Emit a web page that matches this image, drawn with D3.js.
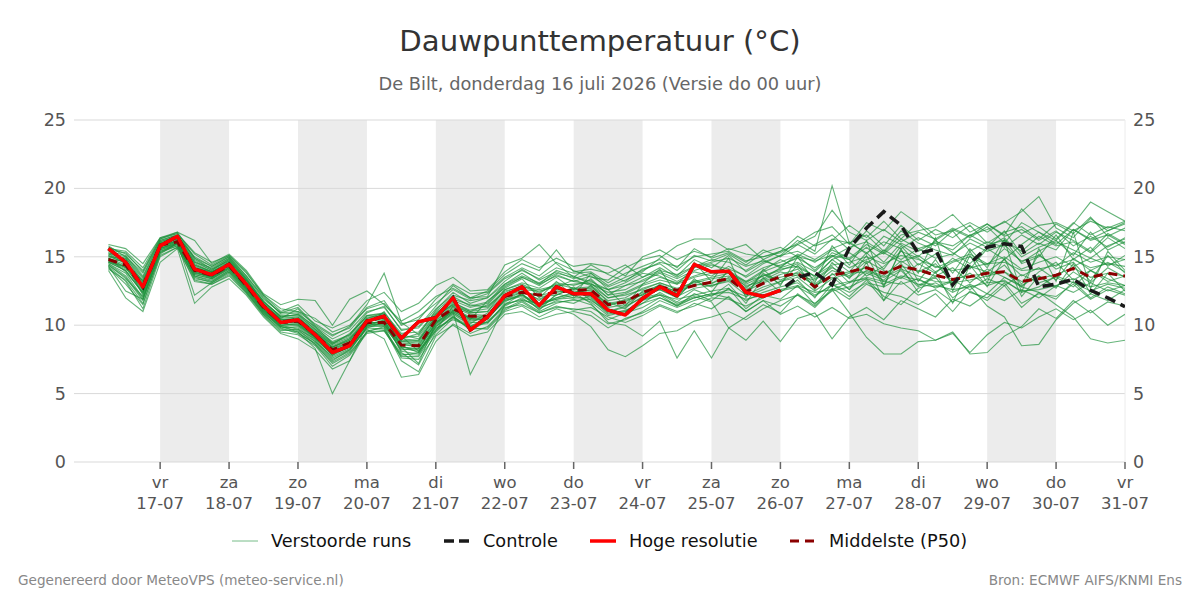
<!DOCTYPE html>
<html>
<head>
<meta charset="utf-8">
<script src="https://cdn.jsdelivr.net/npm/d3@7"></script>
<style>
  html, body { margin: 0; padding: 0; background: #fff; }
  svg { display: block; font-family: "DejaVu Sans", sans-serif; }
</style>
</head>
<body>
<svg id="chart" width="1200" height="600"></svg>
<script>
// ---------------- DATA ----------------
const runStart = "2026-07-16T06:00:00";   // first forecast step
const stepHours = 6;
const dayNames = ["vr","za","zo","ma","di","wo","do","vr","za","zo","ma","di","wo","do","vr"];
const dayDates = ["17-07","18-07","19-07","20-07","21-07","22-07","23-07","24-07","25-07","26-07","27-07","28-07","29-07","30-07","31-07"];
const yTicks = [0, 5, 10, 15, 20, 25];

const hogeResolutie = [15.6,14.6,12.8,15.8,16.5,14.1,13.7,14.45,13.0,11.4,10.2,10.4,9.3,8.0,8.5,10.3,10.65,9.05,10.25,10.55,12.0,9.65,10.6,12.15,12.8,11.45,12.8,12.3,12.3,11.1,10.75,11.95,12.8,12.15,14.45,13.9,13.95,12.4,12.1,12.55];

const controle = [15.6,14.6,12.8,15.8,16.5,14.1,13.7,14.45,13.0,11.4,10.2,10.4,9.3,8.0,8.5,10.3,10.65,9.05,10.25,10.55,12.0,9.65,10.6,12.15,12.8,11.45,12.8,12.3,12.3,11.1,10.75,11.95,12.8,12.15,14.45,13.9,13.95,12.4,12.1,12.55,13.5,13.85,12.95,15.65,17.1,18.3,17.3,15.25,15.55,12.95,14.5,15.7,15.95,15.75,12.8,13.0,13.35,12.55,12.0,11.35];

const middelste = [14.8,14.4,12.8,15.85,16.1,14.0,13.65,14.35,12.9,11.3,10.2,10.3,9.3,8.2,8.7,10.2,10.2,8.55,8.5,10.4,11.2,10.65,10.65,12.1,12.4,12.2,12.4,12.55,12.6,11.5,11.7,12.4,12.8,12.55,12.9,13.15,13.4,12.45,13.05,13.55,13.8,12.8,13.65,13.9,14.2,13.8,14.3,14.05,13.65,13.35,13.55,13.8,13.9,13.2,13.4,13.65,14.15,13.5,13.8,13.6];

const m01 = [15.0,14.6,13.0,16.0,16.3,14.3,13.8,14.6,13.1,11.5,10.5,10.6,9.6,8.5,9.0,10.4,10.5,8.9,8.8,10.7,11.5,11.0,11.2,12.5,12.8,12.6,12.9,13.0,13.1,12.0,12.3,12.9,13.3,13.0,13.5,13.8,14.0,13.2,13.6,14.1,14.3,13.6,14.4,14.6,15.0,14.5,15.1,14.8,14.3,14.0,14.2,14.5,14.6,14.0,14.1,14.4,14.8,14.2,14.5,14.3];
const m02 = [14.5,13.8,12.0,15.5,15.9,13.6,13.3,14.0,12.6,11.0,9.8,9.9,8.9,7.6,8.2,9.8,9.7,7.9,7.8,9.9,10.8,10.0,10.1,11.6,11.8,11.6,11.9,12.0,12.0,10.9,11.0,11.8,12.2,11.9,12.2,12.5,12.7,11.8,12.4,12.8,13.1,12.2,12.9,13.2,13.4,13.0,13.6,13.3,12.9,12.6,12.8,13.1,13.2,12.5,12.6,12.9,13.4,12.8,13.1,12.9];
const m03 = [14.2,13.0,11.5,15.2,16.0,13.9,13.4,14.2,12.7,11.1,9.9,9.5,8.3,5.0,7.4,10.0,11.0,9.2,8.1,9.6,11.4,10.4,11.8,12.7,13.4,12.0,13.2,12.1,13.8,12.6,11.4,13.0,14.1,12.2,14.6,13.2,14.9,12.0,14.1,12.9,15.0,13.1,15.8,14.4,16.2,12.9,15.5,13.8,16.4,12.5,15.1,13.1,16.2,12.4,15.6,13.2,16.8,12.7,15.4,14.0];
const m04 = [15.4,15.1,13.6,16.2,16.6,14.8,14.1,14.9,13.5,11.9,10.9,11.3,10.0,9.2,9.9,11.5,13.8,10.2,9.3,11.1,12.4,11.6,12.0,13.2,14.1,13.3,13.9,13.4,13.8,12.9,13.5,14.0,14.6,14.3,15.0,15.2,15.4,14.7,15.0,15.4,15.9,15.2,16.3,16.0,16.6,15.4,16.9,16.0,15.5,15.1,16.3,15.7,16.9,15.2,16.0,15.5,17.0,16.2,16.6,15.9];
const m05 = [14.9,14.2,12.5,15.7,16.2,14.0,13.5,14.3,12.8,11.2,10.1,10.0,9.0,7.9,8.4,9.7,9.0,6.2,6.4,8.8,10.1,9.4,9.9,11.2,11.8,11.0,11.6,11.9,11.5,10.4,10.9,11.3,12.0,11.4,12.3,11.8,12.7,11.2,12.2,11.9,12.9,11.5,13.0,12.1,13.3,11.8,13.2,12.2,12.6,11.7,12.4,12.0,13.1,11.6,12.3,12.1,13.0,11.9,12.6,12.2];
const m06 = [15.2,14.9,13.2,15.9,16.4,14.5,13.9,14.5,13.2,11.6,10.4,10.5,9.4,8.1,8.6,10.5,10.9,8.4,7.2,10.2,11.0,6.4,8.8,11.5,12.3,11.3,12.2,12.8,11.8,11.0,11.3,12.1,12.6,12.0,13.3,13.0,13.9,12.8,13.4,14.2,14.6,13.9,15.1,14.8,13.6,14.3,15.4,14.9,13.9,14.6,15.0,14.4,15.6,14.7,15.1,14.3,15.3,14.6,15.0,14.8];
const m07 = [14.6,14.3,12.9,16.1,16.5,15.0,14.3,15.0,13.6,12.1,10.8,10.9,9.8,8.8,9.3,10.9,11.4,9.6,9.9,11.4,12.9,12.0,12.1,14.4,14.9,15.9,14.5,13.5,14.4,13.7,13.2,14.1,14.5,13.6,14.8,14.2,15.1,13.9,14.6,15.1,15.4,14.8,15.6,16.1,15.2,16.5,15.9,15.0,16.2,15.3,14.5,15.7,16.4,15.0,15.7,16.2,15.1,16.8,15.5,16.1];
const m08 = [14.4,13.5,11.8,15.3,15.8,13.5,13.1,13.8,12.4,10.8,9.6,9.7,8.6,7.3,8.0,9.5,9.9,7.6,7.5,9.3,10.5,9.8,9.7,11.0,11.4,10.6,11.2,10.8,9.9,8.2,7.7,8.5,9.4,9.6,10.3,10.6,11.0,10.4,11.2,11.8,12.2,11.6,12.5,12.8,13.4,12.1,11.5,12.7,13.1,12.4,13.0,12.3,13.5,12.9,13.6,12.8,13.9,13.1,14.2,13.5];
const m09 = [15.1,14.5,12.2,15.6,16.1,13.8,13.6,14.4,12.9,11.3,10.3,10.2,9.2,8.3,8.8,10.1,10.3,8.7,8.6,10.3,11.3,10.8,10.7,11.8,12.2,11.4,12.0,12.4,11.6,10.2,10.0,9.2,10.3,7.6,9.6,7.6,9.8,10.6,11.5,10.9,12.3,11.4,12.7,11.9,13.0,12.4,12.1,11.5,12.3,11.0,12.5,11.8,12.9,11.3,12.4,11.9,13.2,12.0,12.8,12.3];
const m10 = [14.7,14.1,13.3,15.8,16.2,14.2,13.9,14.7,13.3,11.8,10.6,10.8,9.9,8.7,9.2,10.7,10.8,9.0,9.4,10.9,11.8,11.3,11.6,12.9,13.5,13.0,13.6,13.2,13.0,12.4,12.6,13.3,13.9,13.4,14.0,14.4,14.1,13.6,14.5,15.1,16.2,15.4,20.2,16.0,15.3,16.1,15.6,16.4,15.8,16.9,15.4,16.1,15.7,16.6,15.9,16.8,16.2,15.4,16.7,16.0];
const m11 = [15.5,15.3,13.9,16.3,16.7,15.2,14.4,15.1,13.8,12.2,11.2,11.0,10.5,9.5,10.0,11.2,11.6,10.1,10.4,11.9,13.0,12.3,12.4,13.5,14.2,13.6,14.6,14.0,13.5,13.3,14.2,14.8,15.1,14.2,15.6,14.9,15.3,14.6,15.5,15.0,15.9,16.5,18.4,16.8,16.2,17.0,16.1,16.8,16.3,17.1,16.5,17.4,16.6,18.5,17.2,16.3,17.5,16.6,17.2,16.9];
const m12 = [14.3,13.2,11.2,15.0,15.7,13.2,13.0,13.6,12.3,10.7,9.5,9.3,8.5,7.0,7.8,9.4,9.6,7.8,8.0,9.8,10.4,9.9,10.2,11.3,11.5,10.9,11.4,11.1,11.3,10.6,10.2,10.7,11.4,10.9,11.6,11.2,12.1,11.0,11.8,11.4,12.2,11.3,12.6,10.9,9.1,7.9,7.9,8.8,8.9,9.5,7.9,8.0,9.2,9.9,11.2,10.5,11.8,10.9,11.7,11.4];
const m13 = [14.8,14.7,13.1,15.9,16.3,14.1,13.7,14.3,12.8,11.3,10.2,10.4,9.3,8.4,8.9,10.3,10.4,8.8,8.7,10.5,11.4,10.9,11.0,12.3,12.6,12.5,12.8,13.3,12.9,12.0,12.2,12.6,13.1,12.7,13.1,13.4,13.6,12.9,13.2,13.7,14.1,13.0,14.0,13.5,14.3,13.2,14.0,12.8,13.5,12.0,12.9,11.4,10.6,8.5,8.6,10.4,11.6,12.3,11.8,12.6];
const m14 = [15.3,14.8,12.6,15.8,16.4,14.6,14.0,14.8,13.4,11.7,10.7,10.7,9.7,8.6,9.4,10.6,10.7,9.3,9.0,10.8,11.9,11.5,11.3,12.6,13.1,12.7,13.5,12.6,13.4,12.2,12.9,13.2,13.8,13.2,13.9,13.6,14.3,13.5,14.2,14.6,15.1,14.0,15.3,14.8,15.7,14.6,16.0,15.4,16.1,15.8,16.6,17.0,17.5,18.3,19.4,17.1,16.4,17.8,16.9,17.5];
const m15 = [14.6,14.0,12.4,15.6,16.0,13.7,13.4,14.1,12.7,11.1,10.0,10.1,9.1,8.0,8.5,10.0,10.0,8.2,8.3,10.1,11.0,10.4,10.5,11.9,12.4,11.9,12.5,12.4,12.6,11.4,11.9,12.2,12.9,12.3,13.0,12.9,13.3,12.6,13.3,13.9,13.6,13.3,14.2,13.6,14.7,14.0,13.4,14.5,13.8,14.9,14.1,15.6,14.8,15.9,16.8,16.2,17.4,19.0,18.3,17.6];
const m16 = [14.9,14.4,12.7,15.7,16.2,14.2,13.8,14.5,13.0,11.4,10.3,10.3,9.4,8.3,8.7,10.2,10.1,8.4,8.2,10.2,11.1,10.5,10.6,12.2,12.5,12.1,12.2,12.7,12.5,11.3,11.5,12.3,12.6,12.1,12.7,12.9,13.2,12.2,12.8,13.2,13.5,12.5,13.4,13.8,13.9,13.5,14.1,13.6,13.2,13.1,13.3,13.6,13.9,12.8,12.4,11.5,10.6,9.0,8.7,8.9];
const m17 = [15.0,14.9,13.4,16.0,16.5,14.6,14.2,14.9,13.4,11.7,10.6,10.6,9.5,8.6,9.1,10.5,10.7,9.0,8.9,10.6,11.6,11.1,11.4,12.4,12.9,12.3,13.1,12.9,13.3,12.2,12.4,13.0,13.5,13.1,13.6,14.0,13.9,13.1,13.9,14.4,14.9,14.2,15.0,15.7,16.1,15.3,16.6,16.9,17.2,18.1,16.8,17.4,16.5,17.0,16.2,16.9,15.8,16.5,15.7,16.4];
const m18 = [14.5,13.6,11.9,15.4,15.9,13.4,13.2,13.9,12.5,10.9,9.9,9.6,8.8,7.5,8.1,9.9,10.4,8.0,7.1,9.5,10.7,9.6,10.3,11.4,12.0,11.2,11.8,11.6,12.2,11.2,10.8,11.6,12.4,11.7,12.6,12.1,13.0,11.6,13.5,12.4,13.3,12.0,13.8,12.6,14.6,11.8,14.2,12.4,13.9,11.6,14.4,12.8,14.9,12.1,13.6,12.7,14.5,12.3,13.8,12.5];
const m19 = [15.9,15.6,14.5,16.4,16.8,16.2,14.5,15.2,14.0,12.3,11.5,11.9,11.8,10.0,11.9,12.5,11.5,10.3,11.0,12.1,12.7,12.0,12.5,13.7,14.5,14.0,15.5,13.9,14.1,13.8,14.4,13.5,14.2,13.5,14.3,14.8,14.6,14.0,14.8,14.2,15.2,14.6,15.5,14.9,15.9,15.2,16.3,15.6,16.0,15.5,16.6,15.9,16.2,15.4,16.5,15.8,16.1,15.3,16.4,15.6];
const m20 = [14.0,12.0,11.0,14.6,15.6,11.6,12.8,13.4,12.2,10.6,9.4,9.0,8.2,6.8,7.4,9.6,9.8,7.4,6.6,9.2,10.0,9.2,9.5,10.8,11.0,10.4,10.8,11.0,10.7,9.8,10.5,10.9,11.5,11.0,11.4,12.0,11.9,11.4,12.0,12.5,12.8,12.1,13.0,12.4,13.1,12.8,13.5,13.0,12.8,13.3,12.6,13.4,12.9,13.7,13.1,13.5,12.8,14.0,13.2,13.6];
const m21 = [15.7,15.2,14.0,16.3,16.8,14.9,14.1,14.7,13.3,11.6,10.5,11.2,9.9,9.0,9.6,11.0,11.3,9.7,9.8,11.2,12.2,11.8,12.0,13.0,13.8,13.0,14.0,13.6,13.0,12.6,13.1,13.8,13.6,13.0,14.2,14.5,13.8,13.2,14.0,14.8,14.2,13.6,14.8,15.3,14.5,15.5,14.8,15.6,14.9,15.2,16.0,15.4,15.9,14.6,15.4,16.1,15.5,14.9,15.8,16.3];
const m22 = [14.7,14.2,12.6,15.6,16.0,13.8,13.5,14.2,12.8,11.2,10.1,10.1,9.1,7.8,8.4,10.1,10.0,8.6,8.4,10.2,11.1,10.5,10.4,11.9,12.2,11.6,12.0,12.3,12.1,11.0,11.4,12.0,12.3,11.6,12.1,11.7,9.8,8.9,10.3,8.8,10.5,10.9,9.0,10.6,11.3,10.4,11.8,11.2,10.6,11.9,11.4,12.3,11.8,12.6,12.0,12.9,12.4,13.1,12.5,12.9];
const m23 = [15.2,14.6,13.0,16.0,16.4,14.4,13.9,14.6,13.1,11.5,10.4,10.4,9.5,8.4,9.0,10.4,10.6,9.1,9.2,10.8,11.7,11.0,11.5,12.8,13.5,12.9,13.7,13.2,13.6,12.8,13.3,13.9,14.9,15.8,16.3,16.3,15.5,15.9,14.8,15.4,16.5,15.8,16.2,17.3,16.4,17.6,16.3,17.5,16.6,16.9,17.5,16.8,17.6,16.7,17.3,17.5,16.9,17.6,17.1,17.6];
const m24 = [14.4,13.4,12.1,15.4,15.8,13.6,13.2,14.0,12.6,11.0,9.9,9.8,8.8,7.7,8.3,9.9,9.9,8.3,8.1,9.9,10.9,10.2,10.2,11.5,11.9,11.3,11.7,11.8,11.9,10.8,11.1,11.6,12.0,11.5,12.0,12.3,12.4,11.9,12.2,12.6,12.9,12.4,12.6,13.1,13.5,13.2,13.0,13.4,12.7,13.2,13.8,12.9,13.3,12.4,12.8,13.6,13.1,12.5,13.0,12.7];
const m25 = [15.1,14.7,13.2,15.9,16.3,14.4,13.9,14.5,13.1,11.5,10.4,10.5,9.5,8.4,8.9,10.4,10.5,8.8,8.9,10.6,11.5,10.9,11.0,12.6,13.0,12.4,13.0,12.7,12.8,11.8,12.0,12.7,13.1,12.6,13.2,13.5,13.8,13.0,13.6,14.0,14.5,13.5,14.8,13.9,15.3,14.1,15.8,14.4,15.2,13.8,15.6,14.2,16.3,14.5,15.0,16.6,14.8,15.7,14.3,15.1];
const m26 = [14.6,14.0,12.3,15.5,16.0,13.9,13.5,14.2,12.8,11.2,10.0,10.0,9.1,7.9,8.5,10.0,10.1,8.4,8.3,10.1,11.0,10.3,10.5,11.8,12.1,11.5,11.9,12.2,11.7,10.7,11.0,11.9,12.2,11.4,12.0,12.3,12.0,11.0,11.8,10.8,11.4,10.6,11.3,10.5,10.8,10.1,9.8,9.6,8.9,9.4,8.0,9.3,10.2,9.8,10.6,11.2,10.4,11.1,10.0,10.8];
const m27 = [15.3,15.0,13.5,16.1,16.5,14.7,14.0,14.8,13.3,11.7,10.6,10.8,9.7,8.7,9.3,10.7,10.9,9.4,9.5,11.0,12.1,11.4,11.7,13.0,13.6,13.1,13.8,13.5,13.2,12.6,12.9,13.5,14.0,13.7,14.3,14.6,14.9,14.3,14.7,14.3,15.0,14.7,15.1,14.2,14.8,15.3,14.6,15.1,14.2,14.7,15.2,14.5,15.0,14.1,14.6,15.0,14.3,14.9,14.4,14.8];
const m28 = [14.1,13.3,11.6,15.1,15.7,13.3,13.0,13.7,12.4,10.8,9.7,9.5,8.6,7.2,7.9,9.5,9.6,7.7,7.7,9.6,10.6,9.7,9.8,11.1,11.7,10.9,11.3,11.2,11.0,10.1,10.4,11.0,11.8,11.3,11.8,12.2,12.6,12.1,12.6,13.2,13.7,12.9,13.5,12.6,13.8,13.3,14.5,12.9,13.6,14.2,13.1,14.1,13.5,12.8,13.9,14.6,13.3,14.0,13.4,12.9];
const m29 = [14.8,14.3,12.9,15.8,16.1,14.0,13.7,14.4,12.9,11.3,10.2,10.2,9.2,8.2,8.7,10.2,10.2,8.6,8.5,10.4,11.2,10.6,10.7,12.1,12.4,12.2,12.4,12.6,12.7,11.5,11.7,12.4,12.8,12.5,12.9,13.1,13.4,12.5,13.1,13.5,13.8,12.9,13.7,13.9,14.2,13.8,14.3,14.0,13.6,13.4,13.6,13.8,13.9,13.2,13.4,13.7,14.2,13.5,13.8,13.6];
const m30 = [15.6,15.4,14.2,16.4,16.7,15.3,14.6,15.1,13.9,12.2,11.0,11.5,10.3,9.8,10.4,11.8,12.4,11.0,11.6,12.9,13.5,12.5,12.6,13.9,14.8,14.2,14.9,14.3,14.5,14.3,13.6,15.0,15.5,14.8,15.4,15.0,15.6,15.2,15.0,15.3,16.0,16.8,17.2,15.9,17.5,16.9,18.3,17.4,16.2,17.0,16.4,17.2,16.0,17.5,16.8,15.9,17.0,16.3,16.9,17.4];
const m31 = [14.3,12.5,11.9,15.3,16.0,12.2,13.1,13.9,12.5,10.9,9.8,9.4,8.7,7.4,8.2,9.8,10.2,8.1,7.9,9.7,10.6,9.9,10.6,11.7,12.3,11.1,12.3,12.0,12.9,11.7,11.2,12.5,12.9,12.0,13.4,12.4,14.1,12.3,13.8,13.0,14.4,12.6,14.6,13.4,15.1,12.8,15.6,13.2,14.8,12.9,15.4,13.5,14.4,13.0,15.2,14.1,14.6,13.2,15.1,13.8];
const m32 = [15.8,15.0,13.8,16.2,16.6,14.9,14.3,15.0,13.6,12.0,10.9,11.0,10.1,9.3,9.8,11.3,11.8,10.0,10.6,11.6,12.6,11.9,12.3,13.4,14.0,13.4,14.2,13.8,13.9,13.1,13.8,14.3,14.8,14.0,15.1,14.7,15.2,14.4,15.3,15.7,15.0,15.9,16.6,15.5,16.9,15.8,17.3,16.2,17.0,16.4,17.3,16.0,16.8,17.2,16.3,17.4,16.7,17.9,16.5,17.1];
const m33 = [14.9,13.9,12.4,15.6,16.1,13.7,13.4,14.1,12.7,11.1,10.0,9.7,9.0,7.8,8.6,10.1,10.3,8.5,8.0,10.0,10.9,10.1,10.9,12.0,12.7,11.8,12.6,12.5,12.4,11.6,11.8,12.2,13.0,12.4,13.2,12.8,13.5,12.7,13.7,13.3,13.9,13.4,14.3,13.1,14.0,13.6,14.7,13.9,14.5,13.1,14.3,13.9,14.8,13.6,14.2,13.3,14.9,14.0,14.6,13.9];

const verstoordeRuns = [m01,m02,m03,m04,m05,m06,m07,m08,m09,m10,m11,m12,m13,m14,m15,m16,m17,m18,m19,m20,m21,m22,m23,m24,m25,m26,m27,m28,m29,m30,m31,m32,m33];

// ---------------- CHART ----------------
const svg = d3.select("#chart");
const plot = { left: 74, right: 1125, top: 120, bottom: 462 };

const parse = d3.isoParse;
const t0 = parse(runStart);
const timeAt = i => d3.timeHour.offset(t0, i * stepHours);

const x = d3.scaleTime()
  .domain([parse("2026-07-15T18:00:00"), parse("2026-07-31T00:00:00")])
  .range([plot.left, plot.right]);
const y = d3.scaleLinear().domain([0, 25]).range([plot.bottom, plot.top]);

const tickDays = dayDates.map((d, i) => d3.timeDay.offset(parse("2026-07-17T00:00:00"), i));

// shaded alternate days
const g = svg.append("g");
tickDays.forEach((d, i) => {
  if (i % 2 === 0 && i < tickDays.length - 1) {
    g.append("rect")
      .attr("x", x(d))
      .attr("y", plot.top)
      .attr("width", x(tickDays[i + 1]) - x(d))
      .attr("height", plot.bottom - plot.top)
      .attr("fill", "#ececec");
  }
});

// horizontal grid
g.selectAll("line.grid").data(yTicks).enter().append("line")
  .attr("x1", plot.left).attr("x2", plot.right)
  .attr("y1", d => y(d)).attr("y2", d => y(d))
  .attr("stroke", "#d9d9d9").attr("stroke-width", 1);

// right border
g.append("line").attr("x1", plot.right).attr("x2", plot.right)
  .attr("y1", plot.top).attr("y2", plot.bottom)
  .attr("stroke", "#ececec").attr("stroke-width", 1);

// y labels (both sides)
const yl = svg.append("g").attr("font-size", 17.5).attr("fill", "#555");
yl.selectAll("text.l").data(yTicks).enter().append("text")
  .attr("x", 66).attr("y", d => y(d) + 6).attr("text-anchor", "end").text(d => d);
yl.selectAll("text.r").data(yTicks).enter().append("text")
  .attr("x", 1133).attr("y", d => y(d) + 6).attr("text-anchor", "start").text(d => d);

// x ticks
const xa = svg.append("g");
tickDays.forEach((d, i) => {
  xa.append("line").attr("x1", x(d)).attr("x2", x(d))
    .attr("y1", plot.bottom).attr("y2", plot.bottom + 7)
    .attr("stroke", "#666").attr("stroke-width", 1.5);
  xa.append("text").attr("x", x(d)).attr("y", 488).attr("text-anchor", "middle")
    .attr("font-size", 16.5).attr("fill", "#555").text(dayNames[i]);
  xa.append("text").attr("x", x(d)).attr("y", 509).attr("text-anchor", "middle")
    .attr("font-size", 16.5).attr("fill", "#555").text(dayDates[i]);
});

// clip
svg.append("clipPath").attr("id", "clip").append("rect")
  .attr("x", plot.left).attr("y", plot.top - 10)
  .attr("width", plot.right - plot.left).attr("height", plot.bottom - plot.top + 20);

const line = d3.line().x((d, i) => x(timeAt(i))).y(d => y(d));
const lines = svg.append("g").attr("clip-path", "url(#clip)");

verstoordeRuns.forEach(run => {
  lines.append("path").attr("d", line(run))
    .attr("fill", "none").attr("stroke", "#1c9139")
    .attr("stroke-opacity", 0.68).attr("stroke-width", 1.1);
});

lines.append("path").attr("d", line(middelste))
  .attr("fill", "none").attr("stroke", "#8b0000").attr("stroke-width", 3)
  .attr("stroke-dasharray", "9,6");

lines.append("path").attr("d", line(controle))
  .attr("fill", "none").attr("stroke", "#1a1a1a").attr("stroke-width", 3.5)
  .attr("stroke-dasharray", "11,6");

lines.append("path").attr("d", line(hogeResolutie))
  .attr("fill", "none").attr("stroke", "#ff0000").attr("stroke-width", 3.5)
  .attr("stroke-linejoin", "round");

// title
svg.append("text").attr("x", 600).attr("y", 51).attr("text-anchor", "middle")
  .attr("font-size", 29.2).attr("fill", "#333").text("Dauwpunttemperatuur (°C)");
svg.append("text").attr("x", 600).attr("y", 90).attr("text-anchor", "middle")
  .attr("font-size", 17.8).attr("fill", "#666").text("De Bilt, donderdag 16 juli 2026 (Versie do 00 uur)");

// legend
const legendItems = [
  { label: "Verstoorde runs", x: 232, color: "#1c9139", w: 1, dash: null, op: 0.6 },
  { label: "Controle", x: 444, color: "#1a1a1a", w: 3.5, dash: "10,5", op: 1 },
  { label: "Hoge resolutie", x: 590, color: "#ff0000", w: 3.5, dash: null, op: 1 },
  { label: "Middelste (P50)", x: 790, color: "#8b0000", w: 3, dash: "9,6", op: 1 }
];
const lg = svg.append("g");
legendItems.forEach(it => {
  lg.append("line").attr("x1", it.x).attr("x2", it.x + 26).attr("y1", 541).attr("y2", 541)
    .attr("stroke", it.color).attr("stroke-width", it.w).attr("stroke-opacity", it.op)
    .attr("stroke-dasharray", it.dash);
  lg.append("text").attr("x", it.x + 39).attr("y", 547).attr("font-size", 17.7)
    .attr("fill", "#111").text(it.label);
});

// footer
svg.append("text").attr("x", 18).attr("y", 585).attr("font-size", 13.6).attr("fill", "#888")
  .text("Gegenereerd door MeteoVPS (meteo-service.nl)");
svg.append("text").attr("x", 1182).attr("y", 585).attr("font-size", 13.6).attr("fill", "#888")
  .attr("text-anchor", "end").text("Bron: ECMWF AIFS/KNMI Ens");
</script>
</body>
</html>
